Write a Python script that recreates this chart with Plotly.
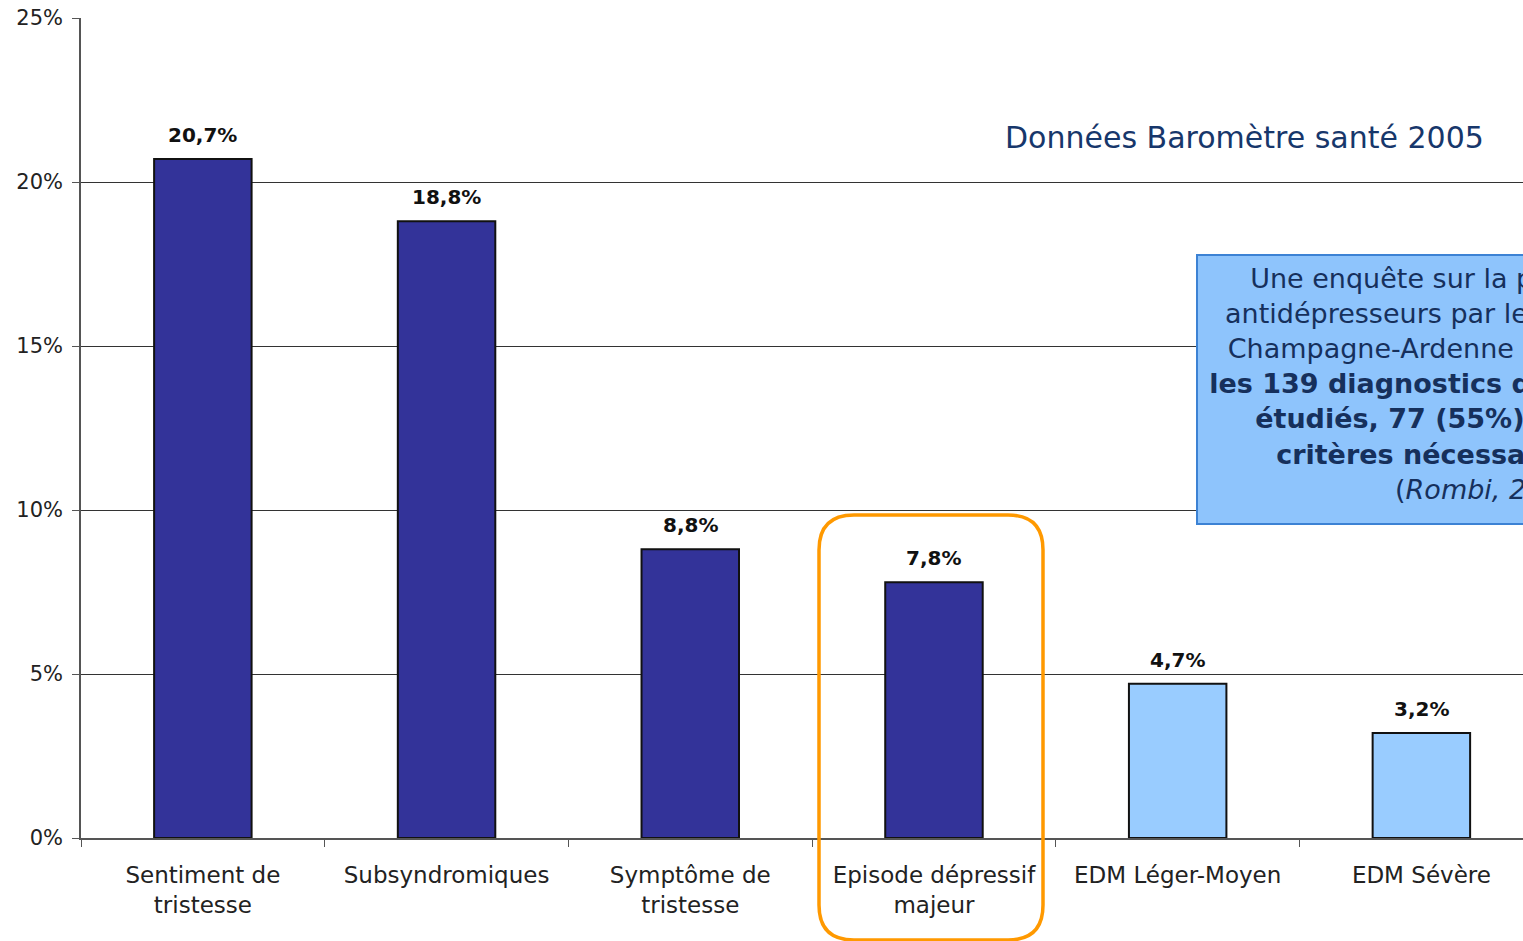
import plotly.graph_objects as go

# Prévalence des troubles dépressifs (Baromètre santé 2005)
categories = [
    "Sentiment de<br>tristesse",
    "Subsyndromiques",
    "Symptôme de<br>tristesse",
    "Episode dépressif<br>majeur",
    "EDM Léger-Moyen",
    "EDM Sévère",
]
values = [20.7, 18.8, 8.8, 7.8, 4.7, 3.2]
value_labels = ["20,7%", "18,8%", "8,8%", "7,8%", "4,7%", "3,2%"]
bar_colors = ["#333399", "#333399", "#333399", "#333399", "#99CCFF", "#99CCFF"]
y_ticks = [0, 5, 10, 15, 20, 25]
y_tick_labels = ["0%", "5%", "10%", "15%", "20%", "25%"]

box_lines = [
    "Une enquête sur la prescription des",
    "antidépresseurs par les généralistes en",
    "Champagne-Ardenne a montré que sur",
    "<b>les 139 diagnostics d'épisode majeur</b>",
    "<b>étudiés, 77 (55%) n'ont pas les</b>",
    "<b>critères nécessaires au DSM</b>",
    "(<i>Rombi, 2007)</i>",
]

W, H = 1523, 941
ML, MT, MB = 81, 18, 103
PW = W - ML
PH = H - MT - MB

FONT = "DejaVu Sans"


def px_to_paper(px, py):
    return (px - ML) / PW, (H - MB - py) / PH


fig = go.Figure()
fig.add_trace(
    go.Bar(
        x=categories,
        y=values,
        width=0.4,
        marker=dict(color=bar_colors, line=dict(color="#111111", width=2)),
        hoverinfo="skip",
    )
)

# value labels above each bar
for cat, v, lab in zip(categories, values, value_labels):
    fig.add_annotation(
        x=cat, y=v, text=f"<b>{lab}</b>", showarrow=False,
        yanchor="bottom", yshift=10,
        font=dict(family=FONT, size=20, color="#111111"),
    )

# source caption
cx, cy = px_to_paper(1486, 137)
fig.add_annotation(
    x=cx, y=cy, xref="paper", yref="paper",
    text="Données Baromètre santé 2005", showarrow=False,
    xanchor="right", yanchor="middle",
    font=dict(family=FONT, size=30, color="#17376B"),
)

# information box
bx, by = px_to_paper(1492, 389.5)
fig.add_annotation(
    x=bx, y=by, xref="paper", yref="paper",
    text="<br>".join(box_lines), showarrow=False,
    xanchor="center", yanchor="middle", align="center",
    width=574, height=253, valign="top",
    bgcolor="#8EC4FC", bordercolor="#3C82D4", borderwidth=2, borderpad=7,
    font=dict(family=FONT, size=27, color="#16305C"),
)

# rounded orange frame around the major depressive episode column
x0, y0 = 819, 515
x1, y1 = 1043, 940
r = 35
pts = dict(
    a=px_to_paper(x0 + r, y0), b=px_to_paper(x1 - r, y0), c=px_to_paper(x1, y0),
    d=px_to_paper(x1, y0 + r), e=px_to_paper(x1, y1 - r), f=px_to_paper(x1, y1),
    g=px_to_paper(x1 - r, y1), h=px_to_paper(x0 + r, y1), i=px_to_paper(x0, y1),
    j=px_to_paper(x0, y1 - r), k=px_to_paper(x0, y0 + r), l=px_to_paper(x0, y0),
)


def P(k):
    return f"{pts[k][0]:.5f},{pts[k][1]:.5f}"


path = (f"M {P('a')} L {P('b')} Q {P('c')} {P('d')} L {P('e')} Q {P('f')} {P('g')} "
        f"L {P('h')} Q {P('i')} {P('j')} L {P('k')} Q {P('l')} {P('a')} Z")
fig.add_shape(type="path", path=path, xref="paper", yref="paper",
              line=dict(color="#FF9900", width=3.5), fillcolor="rgba(0,0,0,0)")

fig.update_layout(
    width=W, height=H,
    margin=dict(l=ML, r=0, t=MT, b=MB, pad=0),
    paper_bgcolor="white", plot_bgcolor="white",
    showlegend=False, bargap=0.6,
    font=dict(family=FONT, size=21, color="#222222"),
)
fig.update_xaxes(
    type="category", range=[-0.5, 5.417],
    tickson="boundaries", ticks="outside", ticklen=7, tickcolor="#555555",
    ticklabelstandoff=16,
    showline=True, linecolor="#555555", linewidth=1.5,
    showgrid=False, tickfont=dict(family=FONT, size=23, color="#222222"),
)
fig.update_yaxes(
    range=[0, 25], tickvals=y_ticks, ticktext=y_tick_labels,
    ticks="outside", ticklen=7, tickcolor="#555555", ticklabelstandoff=5,
    showline=True, linecolor="#555555", linewidth=1.5,
    showgrid=True, gridcolor="#333333", gridwidth=1,
    zeroline=False, tickfont=dict(family=FONT, size=21, color="#222222"),
)

fig.write_html("out.html")
